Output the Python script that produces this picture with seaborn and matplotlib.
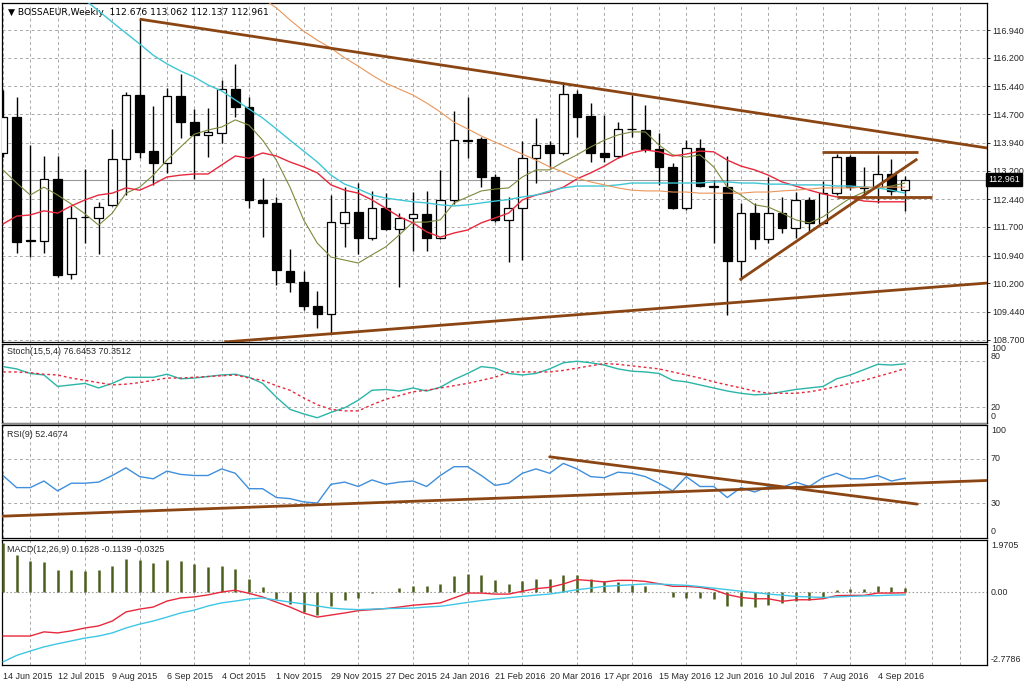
import numpy as np
import matplotlib
matplotlib.use("Agg")
import matplotlib.pyplot as plt
import matplotlib.transforms as mtransforms
from matplotlib.patches import Rectangle
import seaborn as sns

sns.set_style("white")
plt.rcParams['font.family'] = ['Liberation Sans', 'DejaVu Sans']

# ---------------- data ----------------
date_labels = ["14 Jun 2015", "12 Jul 2015", "9 Aug 2015", "6 Sep 2015", "4 Oct 2015",
               "1 Nov 2015", "29 Nov 2015", "27 Dec 2015", "24 Jan 2016", "21 Feb 2016",
               "20 Mar 2016", "17 Apr 2016", "15 May 2016", "12 Jun 2016", "10 Jul 2016",
               "7 Aug 2016", "4 Sep 2016"]

opens = [113.67, 114.63, 111.33, 111.33, 112.98, 110.45, 111.97, 111.94, 112.29, 113.51,
         115.21, 113.72, 113.40, 115.18, 114.49, 114.15, 114.20, 115.37, 114.89, 112.42,
         112.34, 110.53, 110.24, 109.60, 109.39, 111.81, 112.10, 111.41, 112.20, 111.65,
         111.94, 112.05, 111.41, 112.43, 114.01, 114.04, 113.03, 111.89, 112.20, 113.53,
         113.88, 113.67, 115.24, 114.65, 113.67, 113.59, 114.31, 114.28, 113.77, 113.30,
         112.20, 113.80, 112.79, 112.76, 110.80, 112.07, 111.38, 112.07, 111.67, 112.42,
         111.81, 112.60, 113.56, 112.74, 112.76, 113.11, 112.676]
highs = [115.34, 115.16, 113.88, 113.59, 113.59, 112.26, 113.24, 112.37, 114.31, 115.29,
         117.23, 114.92, 115.40, 115.77, 114.84, 114.87, 115.61, 116.04, 115.16, 113.00,
         112.50, 111.12, 110.53, 110.00, 112.55, 112.76, 112.87, 112.66, 112.60, 112.07,
         112.63, 112.66, 113.22, 114.79, 115.16, 114.10, 113.11, 112.50, 113.99, 114.60,
         113.99, 115.56, 115.34, 115.00, 114.68, 114.49, 115.21, 114.95, 114.20, 113.40,
         114.01, 114.04, 112.95, 113.59, 112.34, 112.34, 113.03, 112.50, 112.63, 112.50,
         112.92, 113.64, 113.62, 113.30, 113.62, 113.51, 113.062]
lows = [113.56, 111.01, 110.90, 111.01, 110.37, 110.32, 111.27, 110.98, 112.26, 112.55,
        113.53, 112.82, 113.14, 114.07, 112.98, 113.56, 113.93, 114.63, 112.20, 111.43,
        110.16, 109.97, 109.49, 109.01, 108.88, 111.17, 110.98, 111.35, 111.62, 110.10,
        111.06, 111.06, 111.38, 112.31, 113.53, 112.76, 111.83, 110.77, 110.82, 112.87,
        113.27, 113.62, 114.10, 113.43, 113.43, 113.53, 114.10, 113.69, 112.82, 112.18,
        112.15, 112.77, 111.27, 109.36, 110.29, 111.12, 111.27, 111.54, 111.41, 111.57,
        111.80, 112.55, 112.68, 112.47, 112.34, 112.55, 112.137]
closes = [114.63, 111.30, 111.35, 112.98, 110.42, 111.94, 111.96, 112.23, 113.51, 115.21,
          113.69, 113.40, 115.18, 114.49, 114.15, 114.23, 115.37, 114.89, 112.42, 112.34,
          110.56, 110.24, 109.60, 109.39, 111.83, 112.10, 111.41, 112.20, 111.65, 111.94,
          112.05, 111.41, 112.43, 114.01, 114.00, 113.03, 111.89, 112.20, 113.53, 113.88,
          113.67, 115.24, 114.63, 113.67, 113.56, 114.31, 114.30, 113.77, 113.30, 112.21,
          113.80, 112.79, 112.76, 110.80, 112.07, 111.38, 112.07, 111.67, 112.42, 111.81,
          112.60, 113.56, 112.76, 112.76, 113.11, 112.66, 112.961]

ma_fast = [113.22, 112.87, 112.55, 112.76, 112.55, 112.31, 112.05, 111.75, 112.07, 112.60,
           112.76, 113.08, 113.48, 113.83, 114.17, 114.28, 114.36, 114.55, 114.41, 114.01,
           113.48, 112.76, 111.89, 111.27, 110.90, 110.82, 110.74, 110.96, 111.17, 111.49,
           111.83, 111.83, 111.89, 112.34, 112.50, 112.66, 112.71, 112.74, 113.03, 113.22,
           113.22, 113.43, 113.62, 113.83, 114.01, 114.15, 114.23, 114.23, 113.88, 113.62,
           113.56, 113.62, 113.30, 112.76, 112.55, 112.29, 112.23, 112.07, 111.89, 111.81,
           111.97, 112.23, 112.47, 112.63, 112.74, 112.79, 112.87]
ma_mid = [111.78, 111.99, 112.02, 112.13, 112.07, 112.26, 112.42, 112.55, 112.60, 112.74,
          112.68, 112.84, 113.03, 113.08, 113.11, 113.11, 113.35, 113.59, 113.53, 113.67,
          113.59, 113.43, 113.30, 113.14, 112.82, 112.68, 112.60, 112.42, 112.20, 111.97,
          111.81, 111.57, 111.43, 111.54, 111.62, 111.81, 111.94, 112.07, 112.42, 112.55,
          112.63, 112.76, 112.98, 113.14, 113.32, 113.53, 113.67, 113.75, 113.70, 113.59,
          113.64, 113.72, 113.70, 113.48, 113.32, 113.22, 113.08, 112.90, 112.79, 112.68,
          112.58, 112.50, 112.47, 112.39, 112.37, 112.37, 112.37]
ma_slow_start = 6
ma_slow = [117.74, 117.45, 117.15, 116.86, 116.57, 116.27, 116.04, 115.85, 115.69, 115.48,
           115.32, 115.08, 114.84, 114.60, 114.31, 114.01, 113.72, 113.43, 113.08, 112.84,
           112.71, 112.55, 112.47, 112.42, 112.37, 112.34, 112.29, 112.26, 112.29, 112.34,
           112.39, 112.43, 112.50, 112.55, 112.66, 112.74, 112.79, 112.79, 112.79, 112.82,
           112.87, 112.87, 112.87, 112.87, 112.87, 112.87, 112.90, 112.90, 112.87, 112.87,
           112.84, 112.84, 112.82, 112.82, 112.82, 112.79, 112.79, 112.76, 112.74, 112.68,
           112.60]
ma_long_start = 19
ma_long = [117.79, 117.53, 117.21, 116.91, 116.67, 116.46, 116.20, 115.98, 115.74, 115.53,
           115.37, 115.21, 115.00, 114.76, 114.49, 114.31, 114.12, 113.96, 113.80, 113.64,
           113.48, 113.30, 113.16, 113.00, 112.90, 112.82, 112.74, 112.68, 112.66, 112.66,
           112.63, 112.63, 112.60, 112.60, 112.60, 112.60, 112.63, 112.63, 112.66, 112.68,
           112.71, 112.74, 112.74, 112.74, 112.76, 112.76, 112.76, 112.76]
last_price = 112.961

price_ticks = [116.94, 116.20, 115.44, 114.70, 113.94, 113.20, 112.44, 111.70,
               110.94, 110.20, 109.44, 108.70]

# hand-drawn trend lines: (week index, price) anchors
price_trend_lines = [((10, 117.23), (72.05, 113.80)),
                     ((16.2, 108.64), (72.05, 110.21)),
                     ((53.9, 110.29), (66.9, 113.51)),
                     ((59.9, 113.70), (66.95, 113.70)),
                     ((61.0, 112.50), (68.0, 112.50))]

stoch_main = [73, 70, 64, 62, 47, 49, 51, 45, 51, 59, 59, 59, 63, 57, 58, 60, 62, 63, 59, 51,
              33, 17, 11, 6, 13, 19, 29, 42, 43, 41, 45, 41, 46, 56, 64, 73, 71, 64, 62, 64,
              70, 78, 80, 78, 75, 70, 67, 66, 64, 55, 53, 49, 45, 41, 38, 36, 37, 40, 43, 45,
              47, 57, 62, 69, 76, 75, 76.65]
stoch_signal = [66, 66, 65, 63, 62, 58, 55, 52, 49, 50, 52, 55, 58, 58, 59, 60, 61, 62, 58, 55,
                48, 42, 32, 23, 17, 15, 15, 23, 30, 35, 40, 42, 45, 48, 51, 55, 59, 66, 66, 66,
                66, 68, 71, 74, 77, 76, 74, 72, 70, 66, 62, 58, 53, 49, 45, 41, 38, 38, 38, 40,
                43, 47, 51, 55, 60, 65, 70.35]

rsi = [55, 44, 44, 50, 41, 48, 48, 49, 55, 62, 54, 52, 59, 56, 55, 55, 61, 57, 43, 43,
       35, 34, 31, 30, 47, 49, 45, 51, 47, 49, 50, 45, 55, 63, 63, 55, 46, 48, 57, 61,
       57, 66, 61, 54, 53, 58, 57, 54, 48, 41, 54, 45, 45, 35, 44, 40, 45, 44, 49, 45,
       53, 57, 52, 52, 55, 50, 52.47]
rsi_trend_lines = [((-0.1, 18.0), (72.05, 50.5)),
                   ((40.0, 72.0), (66.9, 29.0))]

macd_hist = [1.90, 1.42, 1.19, 1.16, 0.84, 0.84, 0.81, 0.84, 1.00, 1.29, 1.22, 1.13, 1.25,
             1.19, 1.07, 0.97, 1.00, 0.90, 0.49, 0.19, -0.26, -0.48, -0.77, -0.90, -0.55,
             -0.30, -0.23, -0.05, 0.02, 0.15, 0.24, 0.22, 0.32, 0.60, 0.69, 0.64, 0.45, 0.31,
             0.44, 0.51, 0.50, 0.67, 0.67, 0.51, 0.41, 0.37, 0.28, 0.22, 0.02, -0.21, -0.23,
             -0.23, -0.27, -0.55, -0.55, -0.59, -0.49, -0.42, -0.36, -0.30, -0.23, 0.09, 0.13,
             0.13, 0.22, 0.19, 0.16]
macd_red = [-1.70, -1.70, -1.70, -1.54, -1.58, -1.50, -1.39, -1.31, -1.12, -0.77, -0.66,
            -0.58, -0.35, -0.23, -0.19, -0.11, 0.00, 0.07, -0.05, -0.19, -0.39, -0.58, -0.81,
            -0.97, -0.89, -0.81, -0.72, -0.68, -0.64, -0.58, -0.51, -0.47, -0.42, -0.23, -0.04,
            -0.04, -0.08, -0.08, 0.03, 0.13, 0.18, 0.31, 0.48, 0.44, 0.39, 0.45, 0.45, 0.41,
            0.32, 0.22, 0.22, 0.18, 0.09, -0.10, -0.21, -0.26, -0.26, -0.36, -0.30, -0.30,
            -0.26, -0.14, -0.13, -0.13, -0.04, -0.04, -0.03]
macd_cyan = [-2.70, -2.45, -2.28, -2.12, -2.00, -1.89, -1.78, -1.70, -1.58, -1.39, -1.24,
             -1.12, -0.97, -0.81, -0.70, -0.54, -0.42, -0.35, -0.27, -0.23, -0.31, -0.39,
             -0.46, -0.54, -0.62, -0.66, -0.68, -0.66, -0.64, -0.63, -0.62, -0.58, -0.55,
             -0.48, -0.40, -0.33, -0.27, -0.22, -0.17, -0.12, -0.08, 0.00, 0.09, 0.15, 0.22,
             0.25, 0.28, 0.31, 0.31, 0.28, 0.26, 0.21, 0.15, 0.09, 0.03, -0.02, -0.08, -0.12,
             -0.17, -0.19, -0.21, -0.19, -0.17, -0.15, -0.14, -0.12, -0.11]

# ---------------- layout ----------------
W, H = 1024, 683
L, R = 2, 987
fig = plt.figure(figsize=(W / 100, H / 100), dpi=100)
fig.patch.set_facecolor("white")


def rect(top, bottom):
    return [L / W, 1 - bottom / H, (R - L) / W, (bottom - top) / H]


ax_p = fig.add_axes(rect(3, 342))
ax_s = fig.add_axes(rect(344, 423))
ax_r = fig.add_axes(rect(425, 538))
ax_m = fig.add_axes(rect(540, 665))
axes = [ax_p, ax_s, ax_r, ax_m]

n = len(closes)
idx = np.arange(n)
XMIN, XMAX = -0.07, 72.0
GRID = dict(color="#a8a8a8", linestyle=(0, (3, 3)), linewidth=0.7)
FS = 6.4
BROWN = "#8B4513"

for ax in axes:
    ax.set_facecolor("white")
    ax.set_xlim(XMIN, XMAX)
    for s in ax.spines.values():
        s.set_color("black")
        s.set_linewidth(0.9)
    ax.set_xticks(np.arange(0, 72, 2), minor=True)
    ax.grid(which="minor", axis="x", **GRID)
    ax.grid(which="major", axis="x", visible=False)
    ax.tick_params(axis="x", which="minor", length=0)
    ax.set_xlabel("")
    ax.set_ylabel("")

# ---------------- price panel ----------------
ax_p.set_ylim(108.64, 117.66)
ax_p.yaxis.tick_right()
ax_p.set_yticks(price_ticks)
ax_p.set_yticklabels([f"{t:.3f}" for t in price_ticks], fontsize=FS)
ax_p.tick_params(axis="y", length=2, width=0.7, pad=1.5, direction="out", right=True, left=False)
ax_p.grid(which="major", axis="y", **GRID)
ax_p.set_xticks([])
ax_p.set_xticks(np.arange(0, 72, 2), minor=True)

o = np.array(opens); c = np.array(closes); hi = np.array(highs); lo = np.array(lows)
up = c >= o
ax_p.vlines(idx, lo, hi, color="black", linewidth=1.0, zorder=3)
body_b = np.minimum(o, c)
body_h = np.maximum(np.abs(c - o), 0.015)
ax_p.bar(idx, body_h, bottom=body_b, width=0.64,
         color=np.where(up, "white", "black"), edgecolor="black", linewidth=0.9, zorder=4)

ax_p.axhline(last_price, color="#9a9a9a", linewidth=0.8, zorder=2)

sns.lineplot(x=idx, y=ma_fast, ax=ax_p, color="#7b8a3c", linewidth=0.8, zorder=5, legend=False)
sns.lineplot(x=idx, y=ma_mid, ax=ax_p, color="#e8283c", linewidth=1.0, zorder=5, legend=False)
sns.lineplot(x=np.arange(ma_slow_start, ma_slow_start + len(ma_slow)), y=ma_slow, ax=ax_p,
             color="#3fc6d6", linewidth=1.0, zorder=5, legend=False)
sns.lineplot(x=np.arange(ma_long_start, ma_long_start + len(ma_long)), y=ma_long, ax=ax_p,
             color="#e8965a", linewidth=0.8, zorder=5, legend=False)

for (x0, y0), (x1, y1) in price_trend_lines:
    ax_p.plot([x0, x1], [y0, y1], color=BROWN, linewidth=2.0, zorder=6, solid_capstyle="butt")

ax_p.set_ylim(108.64, 117.66)
ax_p.set_xlim(XMIN, XMAX)
ax_p.set_xlabel(""); ax_p.set_ylabel("")

ax_p.text(0.006, 0.985, "\u25BC BOSSAEUR,Weekly  112.676 113.062 112.137 112.961",
          transform=ax_p.transAxes, ha="left", va="top", fontsize=FS + 0.2, color="black",
          family=["DejaVu Sans"])
tr_p = mtransforms.blended_transform_factory(ax_p.transAxes, ax_p.transData)
ax_p.text(1.0012, last_price, f"{last_price:.3f}", transform=tr_p, ha="left", va="center",
          fontsize=FS, color="white", zorder=10,
          bbox=dict(boxstyle="square,pad=0.2", facecolor="black", edgecolor="black"))

# ---------------- stochastic ----------------
ax_s.set_ylim(-0.9, 102.6)
ax_s.set_yticks([])
for lvl in (20, 80):
    ax_s.axhline(lvl, **GRID)
sns.lineplot(x=idx, y=stoch_main, ax=ax_s, color="#2ab5a8", linewidth=1.0, legend=False)
sns.lineplot(x=idx, y=stoch_signal, ax=ax_s, color="#e8283c", linewidth=1.0,
             linestyle=(0, (2, 2)), legend=False)
ax_s.set_ylim(-0.9, 102.6); ax_s.set_xlim(XMIN, XMAX)
ax_s.set_xticks([]); ax_s.set_xticks(np.arange(0, 72, 2), minor=True)
ax_s.set_xlabel(""); ax_s.set_ylabel("")
ax_s.text(0.005, 0.96, "Stoch(15,5,4) 76.6453 70.3512", transform=ax_s.transAxes,
          ha="left", va="top", fontsize=FS)
tr_s = mtransforms.blended_transform_factory(ax_s.transAxes, ax_s.transData)
for lab, yv in (("100", 97), ("80", 86), ("20", 20), ("0", 7)):
    ax_s.text(1.004, yv, lab, transform=tr_s, ha="left", va="center", fontsize=FS)

# ---------------- RSI ----------------
ax_r.set_ylim(-1.8, 100.9)
ax_r.set_yticks([])
for lvl in (30, 70):
    ax_r.axhline(lvl, **GRID)
sns.lineplot(x=idx, y=rsi, ax=ax_r, color="#3f8fdc", linewidth=1.0, legend=False)
for (x0, y0), (x1, y1) in rsi_trend_lines:
    ax_r.plot([x0, x1], [y0, y1], color=BROWN, linewidth=2.0, zorder=6)
ax_r.set_ylim(-1.8, 100.9); ax_r.set_xlim(XMIN, XMAX)
ax_r.set_xticks([]); ax_r.set_xticks(np.arange(0, 72, 2), minor=True)
ax_r.set_xlabel(""); ax_r.set_ylabel("")
ax_r.text(0.005, 0.96, "RSI(9) 52.4674", transform=ax_r.transAxes,
          ha="left", va="top", fontsize=FS)
tr_r = mtransforms.blended_transform_factory(ax_r.transAxes, ax_r.transData)
for lab, yv in (("100", 96), ("70", 70), ("30", 30), ("0", 4)):
    ax_r.text(1.004, yv, lab, transform=tr_r, ha="left", va="center", fontsize=FS)

# ---------------- MACD ----------------
ax_m.set_ylim(-2.82, 2.01)
ax_m.set_yticks([])
ax_m.axhline(0, color="#a0a0a0", linestyle=(0, (1.5, 2)), linewidth=0.8)
ax_m.vlines(idx, 0, macd_hist, color="#4a5e1c", linewidth=1.8, zorder=3)
sns.lineplot(x=idx, y=macd_red, ax=ax_m, color="#e8283c", linewidth=1.0, zorder=4, legend=False)
sns.lineplot(x=idx, y=macd_cyan, ax=ax_m, color="#3fc6e6", linewidth=1.0, zorder=4, legend=False)
ax_m.set_ylim(-2.82, 2.01); ax_m.set_xlim(XMIN, XMAX)
ax_m.set_xlabel(""); ax_m.set_ylabel("")
ax_m.set_xticks(np.arange(0, 4 * len(date_labels), 4))
ax_m.set_xticklabels(date_labels, fontsize=FS)
for lbl in ax_m.get_xticklabels():
    lbl.set_horizontalalignment("left")
ax_m.tick_params(axis="x", which="major", length=3, width=0.7, pad=2, direction="out")
ax_m.set_xticks(np.arange(0, 72, 2), minor=True)
ax_m.text(0.005, 0.96, "MACD(12,26,9) 0.1628 -0.1139 -0.0325", transform=ax_m.transAxes,
          ha="left", va="top", fontsize=FS)
tr_m = mtransforms.blended_transform_factory(ax_m.transAxes, ax_m.transData)
for lab, yv in (("1.9705", 1.78), ("0.00", 0.0), ("-2.7786", -2.6)):
    ax_m.text(1.004, yv, lab, transform=tr_m, ha="left", va="center", fontsize=FS)

# splitter between stochastic and RSI windows
fig.patches.append(Rectangle((L / W, 1 - 424.5 / H), (R - L) / W, 2 / H,
                             transform=fig.transFigure, facecolor="#8c8c8c",
                             edgecolor="none", zorder=10))

fig.savefig("out.png", dpi=100, facecolor="white")
